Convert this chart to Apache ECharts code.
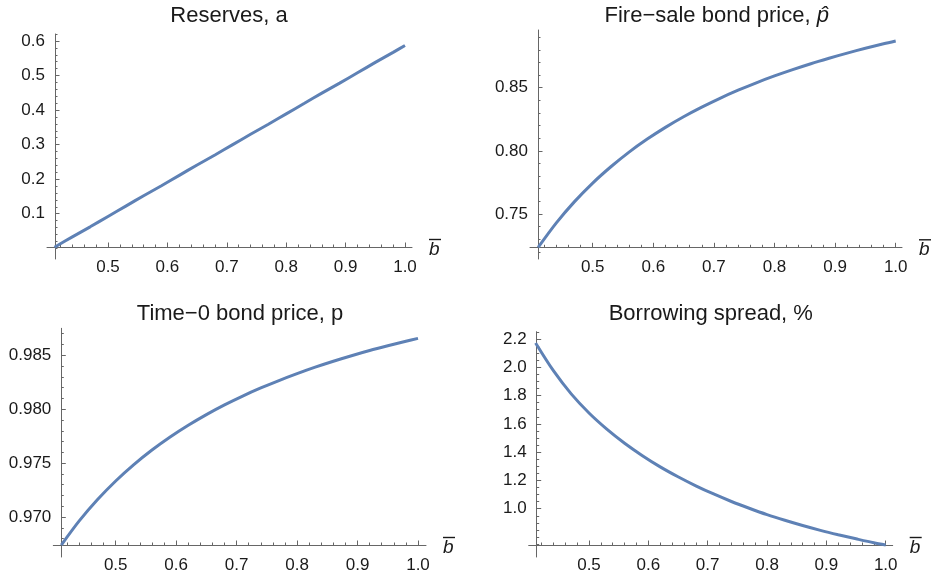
<!DOCTYPE html>
<html><head><meta charset="utf-8">
<script src="https://cdn.jsdelivr.net/npm/echarts@6/dist/echarts.min.js"></script>
<style>html,body{margin:0;padding:0;background:#fff}#c{width:931px;height:576px}</style>
</head><body><div id="c"></div>
<script>
// ---- data ----
const bValues       = [0.41, 0.44, 0.47, 0.50, 0.53, 0.56, 0.59, 0.62, 0.65, 0.68, 0.71, 0.74, 0.77, 0.80, 0.83, 0.86, 0.89, 0.92, 0.95, 0.98, 1.00];
const reserves      = [0.003, 0.033, 0.062, 0.092, 0.122, 0.152, 0.181, 0.211, 0.241, 0.270, 0.300, 0.330, 0.359, 0.389, 0.419, 0.449, 0.478, 0.508, 0.538, 0.567, 0.587];
const fireSalePrice = [0.7236, 0.7430, 0.7598, 0.7745, 0.7874, 0.7990, 0.8093, 0.8186, 0.8270, 0.8346, 0.8416, 0.8480, 0.8539, 0.8593, 0.8643, 0.8690, 0.8733, 0.8774, 0.8812, 0.8848, 0.8870];
const time0Price    = [0.96740, 0.96966, 0.97162, 0.97334, 0.97486, 0.97621, 0.97742, 0.97851, 0.97950, 0.98040, 0.98122, 0.98197, 0.98266, 0.98330, 0.98390, 0.98445, 0.98496, 0.98544, 0.98588, 0.98630, 0.98657];
const borrowSpread  = [2.172, 1.976, 1.812, 1.677, 1.563, 1.463, 1.375, 1.296, 1.226, 1.162, 1.104, 1.051, 1.003, 0.958, 0.918, 0.881, 0.847, 0.816, 0.787, 0.759, 0.743];

const titleTexts = ['Reserves, a', 'Fire\u2212sale bond price, {i|p\u0302}', 'Time\u22120 bond price, p', 'Borrowing spread, %'];
const xMajorTicks = [0.5, 0.6, 0.7, 0.8, 0.9, 1.0];
const yMajorTicks = [
  [0.1, 0.2, 0.3, 0.4, 0.5, 0.6],
  [0.75, 0.80, 0.85],
  [0.970, 0.975, 0.980, 0.985],
  [1.0, 1.2, 1.4, 1.6, 1.8, 2.0, 2.2]
];
const yDecimals = [1, 2, 3, 1];
const seriesList = [reserves, fireSalePrice, time0Price, borrowSpread];

// ---- layout (pixel anchors measured on the reference) ----
const FONT = '"Liberation Sans", Arial, Helvetica, sans-serif';
const AXIS_COLOR = '#666666';
const TEXT_COLOR = '#1a1a1a';
const LINE_COLOR = '#5E81B5';
const TICK_FONT = 17;
const layouts = [
  {x05:108,   x10:405,   yA:[0.1,213.7],  yB:[0.6,41],     ox:55,    oy:247,   left:47,    right:412,   top:34,    bottom:259, tcx:229,   ttop:5,
   xMinor:[0.42,1.0,0.02,2], yMinor:[0.0,0.62,0.02,2]},
  {x05:592.7, x10:895.7, yA:[0.75,214],   yB:[0.85,87.7],  ox:538,   oy:247.3, left:530,   right:902,   top:30,    bottom:259, tcx:716.7, ttop:5,
   xMinor:[0.42,1.0,0.02,2], yMinor:[0.72,0.89,0.01,2]},
  {x05:115.7, x10:418,   yA:[0.970,517],  yB:[0.985,355.3],ox:61.3,  oy:545,   left:53.3,  right:426,   top:328.3, bottom:557, tcx:240,   ttop:303,
   xMinor:[0.42,1.0,0.02,2], yMinor:[0.968,0.987,0.001,3]},
  {x05:589,   x10:885.7, yA:[1.0,508.7],  yB:[2.2,339],    ox:536.7, oy:545,   left:528.7, right:892.7, top:331.7, bottom:557, tcx:710.8, ttop:303,
   xMinor:[0.42,1.0,0.02,2], yMinor:[0.75,2.25,0.05,2]}
];

function steps(a, b, s, dec) {
  const out = [];
  for (let i = 0; ; i++) { const v = +(a + i * s).toFixed(dec); if (v > b + 1e-9) break; out.push(v); }
  return out;
}

const grids = [], xAxes = [], yAxes = [], series = [], titles = [];
layouts.forEach((L, i) => {
  const xs = (L.x10 - L.x05) / 0.5;
  const ys = (L.yA[1] - L.yB[1]) / (L.yB[0] - L.yA[0]);
  const xVal = px => 0.5 + (px - L.x05) / xs;
  const yVal = py => L.yA[0] + (L.yA[1] - py) / ys;
  grids.push({left: L.left, top: L.top, width: L.right - L.left, height: L.bottom - L.top, containLabel: false, outerBoundsMode: 'none'});
  const xmin = xVal(L.left), xmax = xVal(L.right), ymin = yVal(L.bottom), ymax = yVal(L.top);
  const xOff = -(L.bottom - L.oy), yOff = -(L.ox - L.left);
  const dec = yDecimals[i];
  xAxes.push({
    type: 'value', gridIndex: i, min: xmin, max: xmax, position: 'bottom', offset: xOff,
    axisLine: {show: true, onZero: false, lineStyle: {color: AXIS_COLOR, width: 1}},
    axisTick: {show: true, inside: true, length: 4.5, customValues: xMajorTicks, lineStyle: {color: AXIS_COLOR, width: 1}},
    axisLabel: {show: true, customValues: xMajorTicks, margin: 12, formatter: v => v.toFixed(1), color: TEXT_COLOR, fontFamily: FONT, fontSize: TICK_FONT},
    splitLine: {show: false},
    name: '{ov| }\n{b|b}', nameLocation: 'end', nameGap: 17,
    nameTextStyle: {align: 'left', verticalAlign: 'middle', rich: {
      ov: {width: 10, height: 1.4, lineHeight: 5, fontSize: 2, backgroundColor: '#1a1a1a', padding: [0, 0, 0, 2]},
      b: {fontStyle: 'italic', fontSize: 19, lineHeight: 15, color: TEXT_COLOR, fontFamily: FONT}
    }}
  });
  xAxes.push({
    type: 'value', gridIndex: i, min: xmin, max: xmax, position: 'bottom', offset: xOff,
    axisLine: {show: false, onZero: false}, axisLabel: {show: false}, splitLine: {show: false},
    axisTick: {show: true, inside: true, length: 2.5, customValues: steps(...L.xMinor), lineStyle: {color: AXIS_COLOR, width: 1}}
  });
  yAxes.push({
    type: 'value', gridIndex: i, min: ymin, max: ymax, position: 'left', offset: yOff,
    axisLine: {show: true, onZero: false, lineStyle: {color: AXIS_COLOR, width: 1}},
    axisTick: {show: true, inside: true, length: 4.5, customValues: yMajorTicks[i], lineStyle: {color: AXIS_COLOR, width: 1}},
    axisLabel: {show: true, customValues: yMajorTicks[i], margin: 10, formatter: v => v.toFixed(dec), color: TEXT_COLOR, fontFamily: FONT, fontSize: TICK_FONT},
    splitLine: {show: false}
  });
  yAxes.push({
    type: 'value', gridIndex: i, min: ymin, max: ymax, position: 'left', offset: yOff,
    axisLine: {show: false, onZero: false}, axisLabel: {show: false}, splitLine: {show: false},
    axisTick: {show: true, inside: true, length: 2.5, customValues: steps(...L.yMinor), lineStyle: {color: AXIS_COLOR, width: 1}}
  });
  series.push({
    type: 'line', xAxisIndex: 2 * i, yAxisIndex: 2 * i, showSymbol: false, symbol: 'none',
    smooth: 0.3, silent: true,
    lineStyle: {color: LINE_COLOR, width: 3},
    data: bValues.map((b, k) => [b, seriesList[i][k]])
  });
  titles.push({
    text: titleTexts[i], left: L.tcx, top: L.ttop, textAlign: 'center', padding: 0,
    textStyle: {fontFamily: FONT, fontSize: 22, fontWeight: 'normal', color: TEXT_COLOR,
      rich: {i: {fontStyle: 'italic', fontFamily: FONT, fontSize: 22, color: TEXT_COLOR}}}
  });
});

const chart = echarts.init(document.getElementById('c'), null, {renderer: 'canvas'});
chart.setOption({
  animation: false,
  backgroundColor: '#ffffff',
  title: titles,
  grid: grids,
  xAxis: xAxes,
  yAxis: yAxes,
  series: series
});
</script>
</body></html>
